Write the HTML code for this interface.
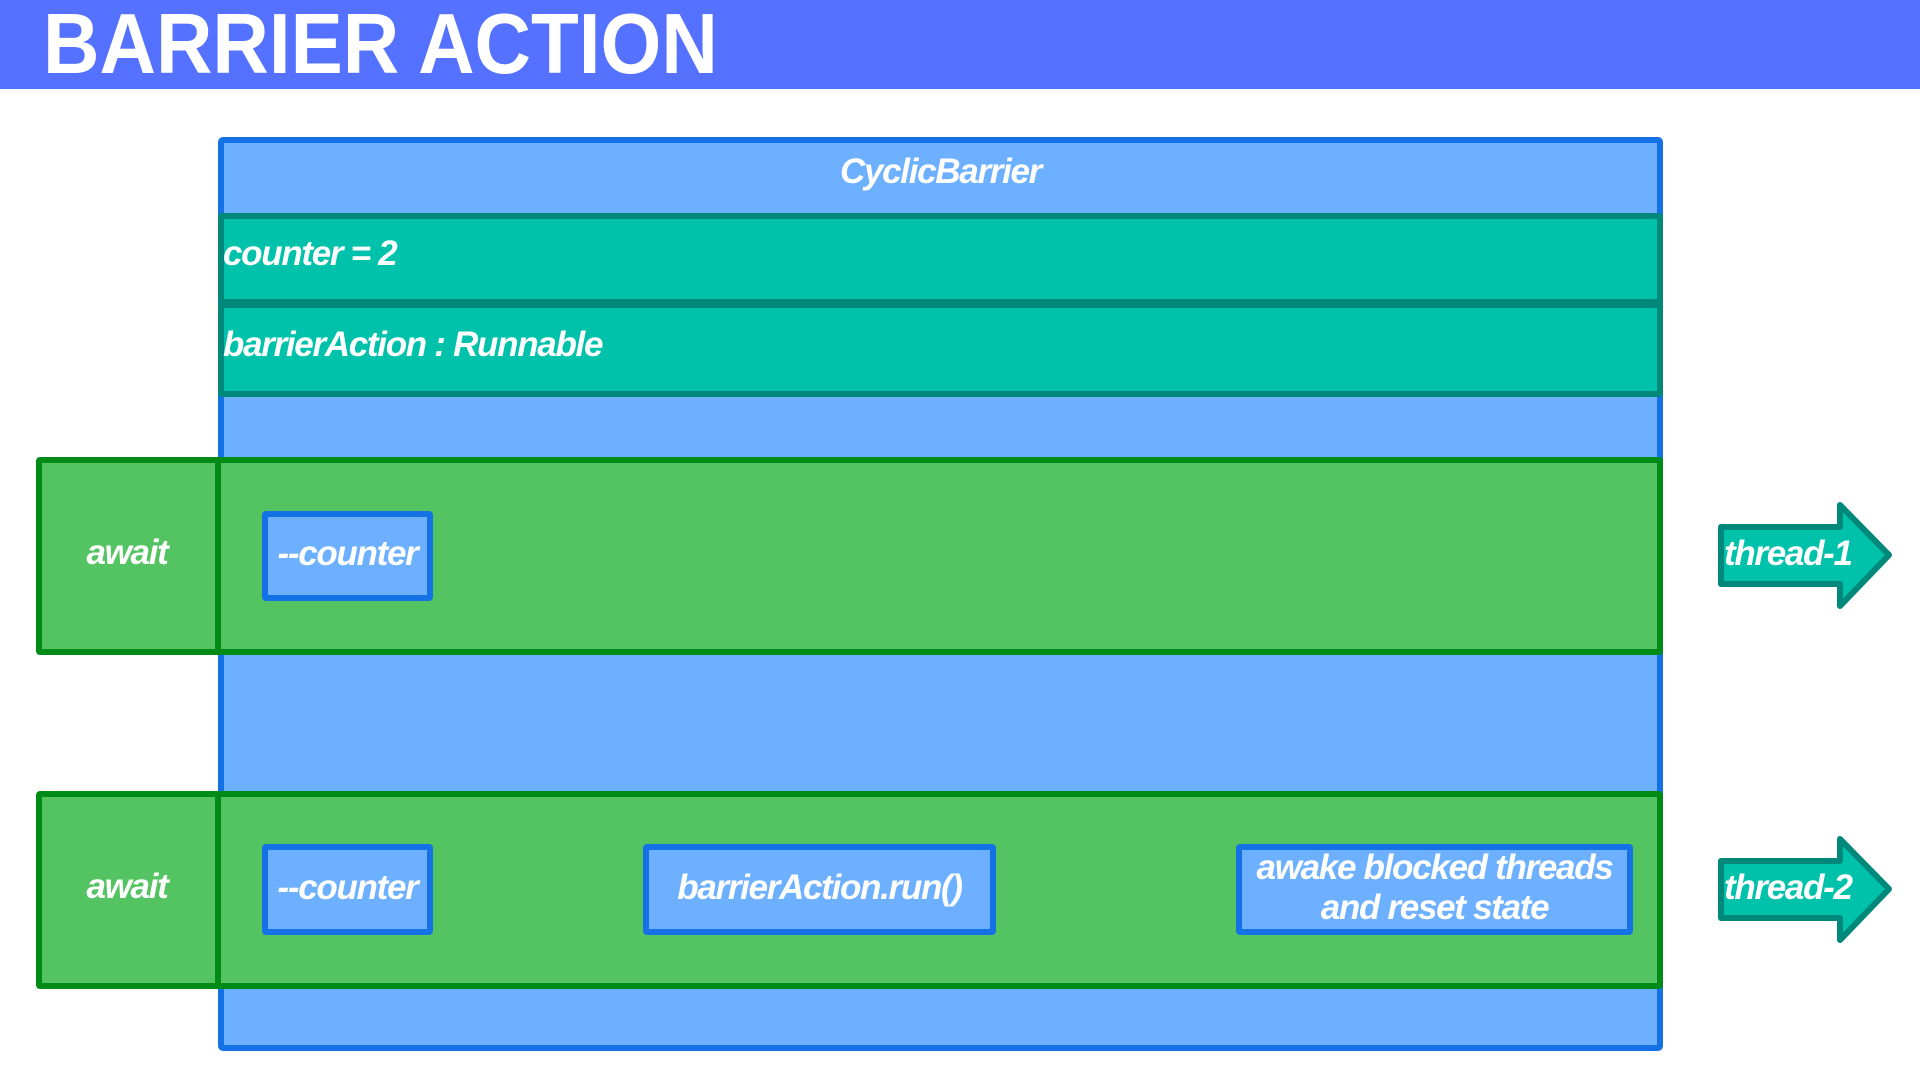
<!DOCTYPE html>
<html><head><meta charset="utf-8"><style>
*{margin:0;padding:0;box-sizing:border-box}
body{width:1920px;height:1080px;background:#fff;position:relative;overflow:hidden;font-family:"Liberation Sans",sans-serif}
.a{position:absolute}
.t{color:#fff;font-weight:bold;font-style:italic;font-size:35px;letter-spacing:-1.3px;white-space:nowrap}
.box{position:absolute;background:#6DB0FF;border:6px solid #1471E6;border-radius:4px;display:flex;align-items:center;justify-content:center;text-align:center;line-height:40px;padding-bottom:4px}
</style></head><body>
<div class="a" style="left:0;top:0;width:1920px;height:89px;background:#5472FF"></div>
<div class="a" style="left:43px;top:-4px;font-size:85px;font-weight:bold;color:#fff;transform:scaleX(0.92);transform-origin:left;white-space:nowrap">BARRIER ACTION</div>

<div class="a" style="left:218px;top:137px;width:1445px;height:914px;background:#6DB0FF;border:6px solid #1471E6;border-radius:5px"></div>
<div class="a t" style="left:218px;width:1445px;top:152px;text-align:center">CyclicBarrier</div>

<div class="a" style="left:218px;top:213px;width:1445px;height:92px;background:#00C2AB;border:6px solid #00897B;border-radius:4px"></div>
<div class="a" style="left:218px;top:302px;width:1445px;height:95px;background:#00C2AB;border:6px solid #00897B;border-radius:4px"></div>
<div class="a t" style="left:223px;top:234px">counter = 2</div>
<div class="a t" style="left:223px;top:325px">barrierAction : Runnable</div>

<div class="a" style="left:36px;top:457px;width:1627px;height:198px;background:#54C462;border:6px solid #008A16;border-radius:4px"></div>
<div class="a" style="left:215px;top:457px;width:6px;height:198px;background:#008A16"></div>
<div class="a t" style="left:36px;width:182px;top:533px;text-align:center">await</div>
<div class="box t" style="left:262px;top:511px;width:171px;height:90px">--counter</div>

<div class="a" style="left:36px;top:791px;width:1627px;height:198px;background:#54C462;border:6px solid #008A16;border-radius:4px"></div>
<div class="a" style="left:215px;top:791px;width:6px;height:198px;background:#008A16"></div>
<div class="a t" style="left:36px;width:182px;top:867px;text-align:center">await</div>
<div class="box t" style="left:262px;top:844px;width:171px;height:91px">--counter</div>
<div class="box t" style="left:643px;top:844px;width:353px;height:91px">barrierAction.run()</div>
<div class="box t" style="left:1236px;top:844px;width:397px;height:91px">awake blocked threads<br>and reset state</div>

<svg class="a" style="left:0;top:0" width="1920" height="1080">
<path d="M1721,527 L1840,527 L1840,505 L1889,555 L1840,606 L1840,584 L1721,584 Z" fill="#00C2AB" stroke="#00897B" stroke-width="6" stroke-linejoin="round"/>
<path d="M1721,861 L1840,861 L1840,839 L1889,889 L1840,940 L1840,918 L1721,918 Z" fill="#00C2AB" stroke="#00897B" stroke-width="6" stroke-linejoin="round"/>
</svg>
<div class="a t" style="left:1724px;top:534px">thread-1</div>
<div class="a t" style="left:1724px;top:868px">thread-2</div>
</body></html>
